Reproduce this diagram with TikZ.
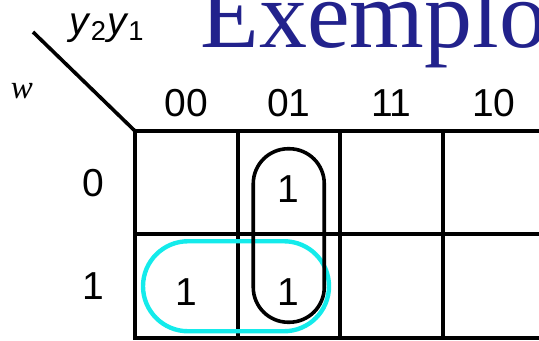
\documentclass[tikz,border=0pt]{standalone}
\usepackage{fontspec}
\setmainfont{Liberation Serif}
\setsansfont{Liberation Sans}
\usetikzlibrary{positioning}
\definecolor{kblue}{RGB}{34,34,140}
\definecolor{kcyan}{RGB}{20,235,235}

\begin{document}
\begin{tikzpicture}[
    x=0.5pt,y=-0.5pt,
    node distance=0pt,
    cell/.style={draw,line width=2pt,minimum width=51.25pt,
        minimum height=51.75pt,inner sep=0pt,outer sep=0pt},
    lbl/.style={font=\sffamily\fontsize{19.5}{23}\selectfont,inner sep=0pt},
    blackloop/.style={draw=black,line width=1.8pt,rounded corners=17.5pt},
    cyanloop/.style={draw=kcyan,line width=2.2pt,rounded corners=22.5pt}
]
\useasboundingbox (0,0) rectangle (539,341);
\clip (0,0) rectangle (539,341);
\node[anchor=base west,text=kblue,inner sep=0pt,
    font=\fontsize{48}{58}\selectfont] (title) at (200,48) {Exemplo};
% cells of the map
\node[cell] (r0c0) at (186.25,182.75) {};
\node[cell,right=of r0c0] (r0c1) {};
\node[cell,right=of r0c1] (r0c2) {};
\node[cell,right=of r0c2] (r0c3) {};
\node[cell,below=of r0c0] (r1c0) {};
\node[cell,right=of r1c0] (r1c1) {};
\node[cell,right=of r1c1] (r1c2) {};
\node[cell,right=of r1c2] (r1c3) {};
% labels
\node[lbl,above=7pt of r0c0] (col00) {00};
\node[lbl,above=7pt of r0c1] (col01) {01};
\node[lbl,above=7pt of r0c2] (col11) {11};
\node[lbl,above=7pt of r0c3] (col10) {10};
\node[lbl,left=15pt of r0c0] (row0) {0};
\node[lbl,left=15pt of r1c0] (row1) {1};
\node[lbl] (vars) at (107,28) {\textit{y}\textsubscript{2}\textit{y}\textsubscript{1}};
\node[font=\itshape\fontsize{16.5}{20}\selectfont,inner sep=0pt] (wvar) at (22,91) {w};
\coordinate (diagend) at (33,32);
\draw[line width=1.8pt] (r0c0.north west) -- (diagend);
% ones
\node[lbl,yshift=-3pt] (one01) at (r0c1) {1};
\node[lbl,yshift=-3pt] (one10) at (r1c0) {1};
\node[lbl,yshift=-3pt] (one11) at (r1c1) {1};
% groups
\draw[cyanloop] ([shift={(-43.25,-45)}]r1c0.center) rectangle ([shift={(40.25,45)}]r1c1.center);
\draw[blackloop] ([shift={(-35.5,-34)}]r0c1.center) rectangle ([shift={(35.5,36)}]r1c1.center);
\end{tikzpicture}
\end{document}
